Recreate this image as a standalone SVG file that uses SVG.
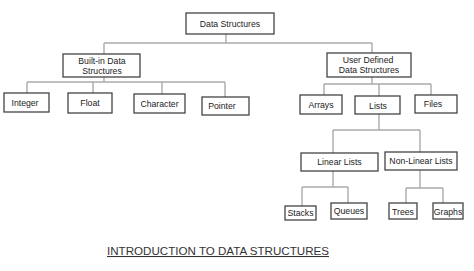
<svg xmlns="http://www.w3.org/2000/svg" width="474" height="271" viewBox="0 0 474 271">
<style>
.box{fill:#fff;stroke:#444;stroke-width:1.3}
.lbl{font-family:"Liberation Sans",Arial,sans-serif;font-size:8.7px;fill:#222;text-anchor:middle}
.con{fill:none;stroke:#aaa;stroke-width:1.4}
.title{font-family:"Liberation Sans",Arial,sans-serif;font-size:10.6px;fill:#333;text-decoration:underline}
</style>
<rect width="474" height="271" fill="#fff"/>
<g id="connectors" class="con">
<path d="M226 34V43M104 43H372M104 43V54M372 43V53"/>
<path d="M104 77V82M27 82H225M27 82V93M93 82V93M162 82V94M225 82V97"/>
<path d="M372 77V84M324 84H431M324 84V95M379 84V96M431 84V95"/>
<path d="M379 114V130M333 130H420M333 130V153M420 130V152"/>
<path d="M333 171V187M302 187H348M302 187V206M348 187V203"/>
<path d="M420 170V188M406 188H443M406 188V203M443 188V203"/>
</g>
<g id="data-structures"><rect class="box" x="186" y="13" width="88" height="21"/><text class="lbl" x="230" y="26.5">Data Structures</text></g>
<g id="built-in"><rect class="box" x="63" y="54" width="77" height="23"/><text class="lbl" x="102" y="64">Built-in Data</text><text class="lbl" x="102" y="74">Structures</text></g>
<g id="user-defined"><rect class="box" x="327" y="53" width="84" height="24"/><text class="lbl" x="368" y="62.5">User Defined</text><text class="lbl" x="369" y="73">Data Structures</text></g>
<g id="integer"><rect class="box" x="4" y="93" width="45" height="19"/><text class="lbl" x="25" y="106">Integer</text></g>
<g id="float"><rect class="box" x="68" y="93" width="44" height="20"/><text class="lbl" x="90" y="106">Float</text></g>
<g id="character"><rect class="box" x="134" y="94" width="51" height="19"/><text class="lbl" x="159.5" y="107">Character</text></g>
<g id="pointer"><rect class="box" x="202" y="97" width="47" height="18"/><text class="lbl" x="222" y="109">Pointer</text></g>
<g id="arrays"><rect class="box" x="300" y="95" width="42" height="19"/><text class="lbl" x="321" y="108">Arrays</text></g>
<g id="lists"><rect class="box" x="355" y="96" width="45" height="18"/><text class="lbl" x="378" y="108.5">Lists</text></g>
<g id="files"><rect class="box" x="415" y="95" width="42" height="18"/><text class="lbl" x="433" y="107">Files</text></g>
<g id="linear-lists"><rect class="box" x="301" y="153" width="77" height="18"/><text class="lbl" x="339.5" y="165">Linear Lists</text></g>
<g id="non-linear-lists"><rect class="box" x="385" y="152" width="72" height="18"/><text class="lbl" x="421" y="164">Non-Linear Lists</text></g>
<g id="stacks"><rect class="box" x="285" y="206" width="31" height="14"/><text class="lbl" x="300.5" y="216">Stacks</text></g>
<g id="queues"><rect class="box" x="331" y="203" width="36" height="16"/><text class="lbl" x="349" y="214">Queues</text></g>
<g id="trees"><rect class="box" x="389" y="203" width="28" height="16"/><text class="lbl" x="403" y="214.5">Trees</text></g>
<g id="graphs"><rect class="box" x="433" y="203" width="30" height="16"/><text class="lbl" x="448" y="214.5">Graphs</text></g>
<text class="title" x="107" y="255" textLength="222" lengthAdjust="spacingAndGlyphs">INTRODUCTION TO DATA STRUCTURES</text>
</svg>
